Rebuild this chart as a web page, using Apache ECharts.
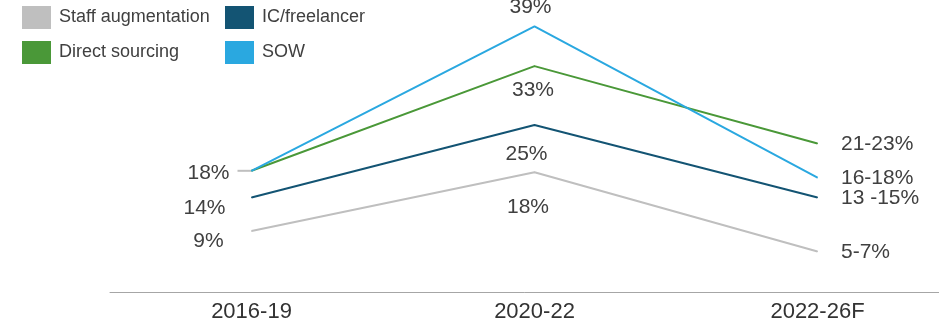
<!DOCTYPE html>
<html>
<head>
<meta charset="utf-8">
<script src="https://cdn.jsdelivr.net/npm/echarts@6/dist/echarts.min.js"></script>
<style>
html,body{margin:0;padding:0;background:#fff;}
#chart{width:939px;height:327px;}
</style>
</head>
<body>
<div id="chart"></div>
<script>
const categories = ['2016-19', '2020-22', '2022-26F'];
const seriesNames = ['Staff augmentation', 'IC/freelancer', 'Direct sourcing', 'SOW'];
const staffValues = [9, 17.6, 6];
const icValues = [13.9, 24.5, 13.9];
const directValues = [17.8, 33.1, 21.8];
const sowValues = [17.8, 38.9, 16.8];
const staffLabels = ['9%', '18%', '5-7%'];
const icLabels = ['14%', '25%', '13 -15%'];
const directLabels = ['', '33%', '21-23%'];
const sowLabels = ['18%', '39%', '16-18%'];

const colors = ['#BFBFBF', '#135473', '#4A9838', '#2AA8E0'];
const labelFont = { fontFamily: 'Liberation Sans, Arial, sans-serif', fontSize: 21, color: '#404040' };

// label offsets per point (start, middle, end) -- styling only
const offsets = [
  [[-43, 10], [-6.5, 35], null],
  [[-47, 11], [-8, 29], null],
  [null, [-1.5, 24], null],
  [[-43, 2], [-4, -19], null]
];

function buildData(values, labels, offs) {
  return values.map((v, i) => {
    const txt = labels[i];
    let label;
    if (!txt) {
      label = { show: false };
    } else if (i === 2) {
      label = Object.assign({ show: true, formatter: txt, position: 'right', distance: 23, offset: [0, 1] }, labelFont);
    } else {
      label = Object.assign({ show: true, formatter: txt, position: 'inside', align: 'center', verticalAlign: 'middle', offset: offs[i] }, labelFont);
    }
    return { value: v, label: label };
  });
}

const allValues = [staffValues, icValues, directValues, sowValues];
const allLabels = [staffLabels, icLabels, directLabels, sowLabels];

const series = allValues.map((vals, k) => ({
  name: seriesNames[k],
  type: 'line',
  data: buildData(vals, allLabels[k], offsets[k]),
  symbol: 'circle',
  symbolSize: 1,
  showSymbol: true,
  silent: true,
  itemStyle: { color: colors[k] },
  lineStyle: { color: colors[k], width: 2 },
  z: 2 + k
}));

const legendText = { fontFamily: 'Liberation Sans, Arial, sans-serif', fontSize: 18, color: '#404040', padding: [0, 0, 0, 3] };

const chart = echarts.init(document.getElementById('chart'), null, { renderer: 'canvas' });
chart.setOption({
  animation: false,
  color: colors,
  grid: { left: 110, width: 849, top: 18.9, height: 273.7, containLabel: false, outerBoundsMode: 'none' },
  legend: [
    { data: [seriesNames[0], seriesNames[2]], orient: 'vertical', left: 22, top: 6, padding: 0, itemWidth: 29, itemHeight: 23, itemGap: 12, icon: 'rect', textStyle: legendText, selectedMode: false },
    { data: [seriesNames[1], seriesNames[3]], orient: 'vertical', left: 225, top: 6, padding: 0, itemWidth: 29, itemHeight: 23, itemGap: 12, icon: 'rect', textStyle: legendText, selectedMode: false }
  ],
  xAxis: {
    type: 'category',
    data: categories,
    boundaryGap: true,
    axisLine: { show: true, lineStyle: { color: '#A6A6A6', width: 1 } },
    axisTick: { show: false },
    axisLabel: { fontFamily: 'Liberation Sans, Arial, sans-serif', fontSize: 22, color: '#333333', margin: 8 },
    splitLine: { show: false }
  },
  yAxis: {
    type: 'value',
    min: 0,
    max: 40,
    show: false,
    splitLine: { show: false }
  },
  series: series
});

// small grey leader line next to the left "18%" label
const p = chart.convertToPixel({ seriesIndex: 3 }, [0, sowValues[0]]);
chart.setOption({
  graphic: [{
    type: 'line',
    shape: { x1: p[0] - 14, y1: p[1], x2: p[0], y2: p[1] },
    style: { stroke: '#BFBFBF', lineWidth: 2 },
    z: 1
  }]
});
</script>
</body>
</html>
